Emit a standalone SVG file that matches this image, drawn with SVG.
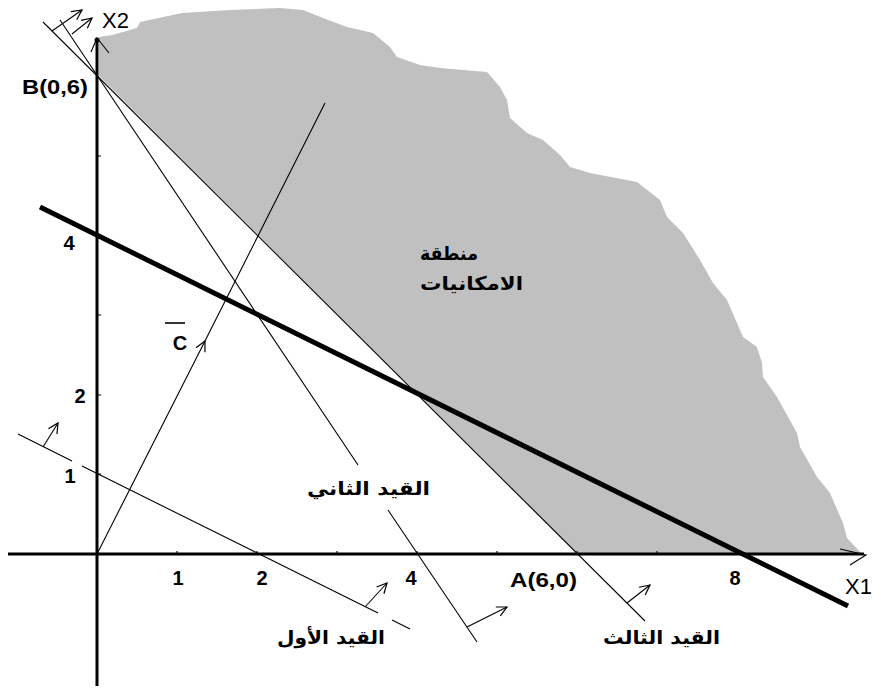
<svg xmlns="http://www.w3.org/2000/svg" width="872" height="688" viewBox="0 0 872 688">
<style>
.thin{stroke:#000;stroke-width:1.1;fill:none}
.axis{stroke:#000;stroke-width:3;fill:none}
.thick{stroke:#000;stroke-width:5;fill:none}
.arr{stroke:#000;stroke-width:1.1;fill:none;marker-end:url(#oa)}
.num{font-family:"Liberation Sans",Arial,sans-serif;font-weight:bold;font-size:20px;fill:#000}
.ax{font-family:"Liberation Sans",Arial,sans-serif;font-size:22px;fill:#000}
.ar{font-family:"DejaVu Sans","Noto Sans",sans-serif;font-weight:bold;font-size:19px;fill:#000}
</style>
<defs>
<marker id="oa" viewBox="0 0 12 12" refX="11" refY="6" markerWidth="12" markerHeight="12" markerUnits="userSpaceOnUse" orient="auto">
<path d="M1,1 L11,6 L1,11" stroke="#000" stroke-width="1.2" fill="none"/>
</marker>
</defs>
<rect width="872" height="688" fill="#fff"/>
<g id="feasible-region">
<polygon fill="#c0c0c0" points="99,37 112,35 137,28 140,22 182,13 230,10 280,8 303,10 323,18 347,27 373,33 390,47 397,57 420,65 440,68 487,72 500,87 507,100 510,118 527,133 543,140 560,155 570,167 590,173 637,182 660,200 667,217 683,233 700,260 713,283 727,300 743,337 757,347 762,363 763,377 777,397 797,433 800,447 817,477 830,493 843,523 847,538 862,554 577,554 99,76"/>
<text class="ar" x="478" y="260" textLength="58" lengthAdjust="spacingAndGlyphs" direction="rtl" unicode-bidi="embed">منطقة</text>
<text class="ar" x="523" y="290" textLength="103" lengthAdjust="spacingAndGlyphs" direction="rtl" unicode-bidi="embed">الامكانيات</text>
</g>
<g id="axes">
<line class="axis" x1="8" y1="554" x2="864" y2="554"/>
<line class="axis" x1="97" y1="40" x2="97" y2="686"/>
<circle cx="97" cy="40" r="2.5" fill="#000"/>
<path class="thin" d="M840,549 L866,555 L850,565"/>
<path class="thin" d="M91,52 L97,38 L109,53"/>
<path class="thin" d="M177,554v-3M257,554v-3M337,554v-3M417,554v-3M497,554v-3M577,554v-3M657,554v-3M737,554v-3M97,474h4M97,395h4M97,315h4M97,235h4M97,156h4"/>
<text class="ax" x="102" y="28">X2</text>
<text class="ax" x="845" y="594">X1</text>
</g>
<g id="labels">
<text class="num" x="22" y="94" textLength="66" lengthAdjust="spacingAndGlyphs">B(0,6)</text>
<text class="num" x="510" y="587" textLength="67" lengthAdjust="spacingAndGlyphs">A(6,0)</text>
<text class="num" x="69" y="250" text-anchor="middle">4</text>
<text class="num" x="80" y="403" text-anchor="middle">2</text>
<text class="num" x="70" y="483" text-anchor="middle">1</text>
<text class="num" x="178" y="585" text-anchor="middle">1</text>
<text class="num" x="262" y="585" text-anchor="middle">2</text>
<text class="num" x="411" y="585" text-anchor="middle">4</text>
<text class="num" x="735" y="585" text-anchor="middle">8</text>
</g>
<g id="objective-c">
<polyline class="thin" points="97,554 205,341 325,103" marker-mid="url(#oa)"/>
<text class="num" x="180" y="350" text-anchor="middle">C</text>
<line x1="165" y1="323" x2="185" y2="323" stroke="#000" stroke-width="1.6"/>
</g>
<g id="constraint-1">
<line class="thin" x1="18" y1="434" x2="72" y2="461"/>
<line class="thin" x1="82" y1="466" x2="378" y2="613"/>
<line class="thin" x1="392" y1="620" x2="410" y2="629"/>
<line class="arr" x1="43" y1="447" x2="58" y2="423"/>
<line class="arr" x1="365" y1="607" x2="387" y2="583"/>
<text class="ar" x="385" y="644" textLength="108" lengthAdjust="spacingAndGlyphs" direction="rtl" unicode-bidi="embed">القيد الأول</text>
</g>
<g id="constraint-2">
<line class="thin" x1="60" y1="20" x2="358" y2="465"/>
<line class="thin" x1="388" y1="510" x2="477" y2="642"/>
<line class="arr" x1="72" y1="34" x2="92" y2="18"/>
<line class="arr" x1="467" y1="627" x2="507" y2="607"/>
<text class="ar" x="430" y="495" textLength="123" lengthAdjust="spacingAndGlyphs" direction="rtl" unicode-bidi="embed">القيد الثاني</text>
</g>
<g id="constraint-3">
<line class="thin" x1="43" y1="22" x2="645" y2="621"/>
<line class="arr" x1="52" y1="31" x2="82" y2="10"/>
<line class="arr" x1="627" y1="603" x2="650" y2="585"/>
<text class="ar" x="720" y="644" textLength="117" lengthAdjust="spacingAndGlyphs" direction="rtl" unicode-bidi="embed">القيد الثالث</text>
</g>
<g id="objective-line">
<line class="thick" x1="40" y1="207" x2="848" y2="606"/>
</g>
</svg>
